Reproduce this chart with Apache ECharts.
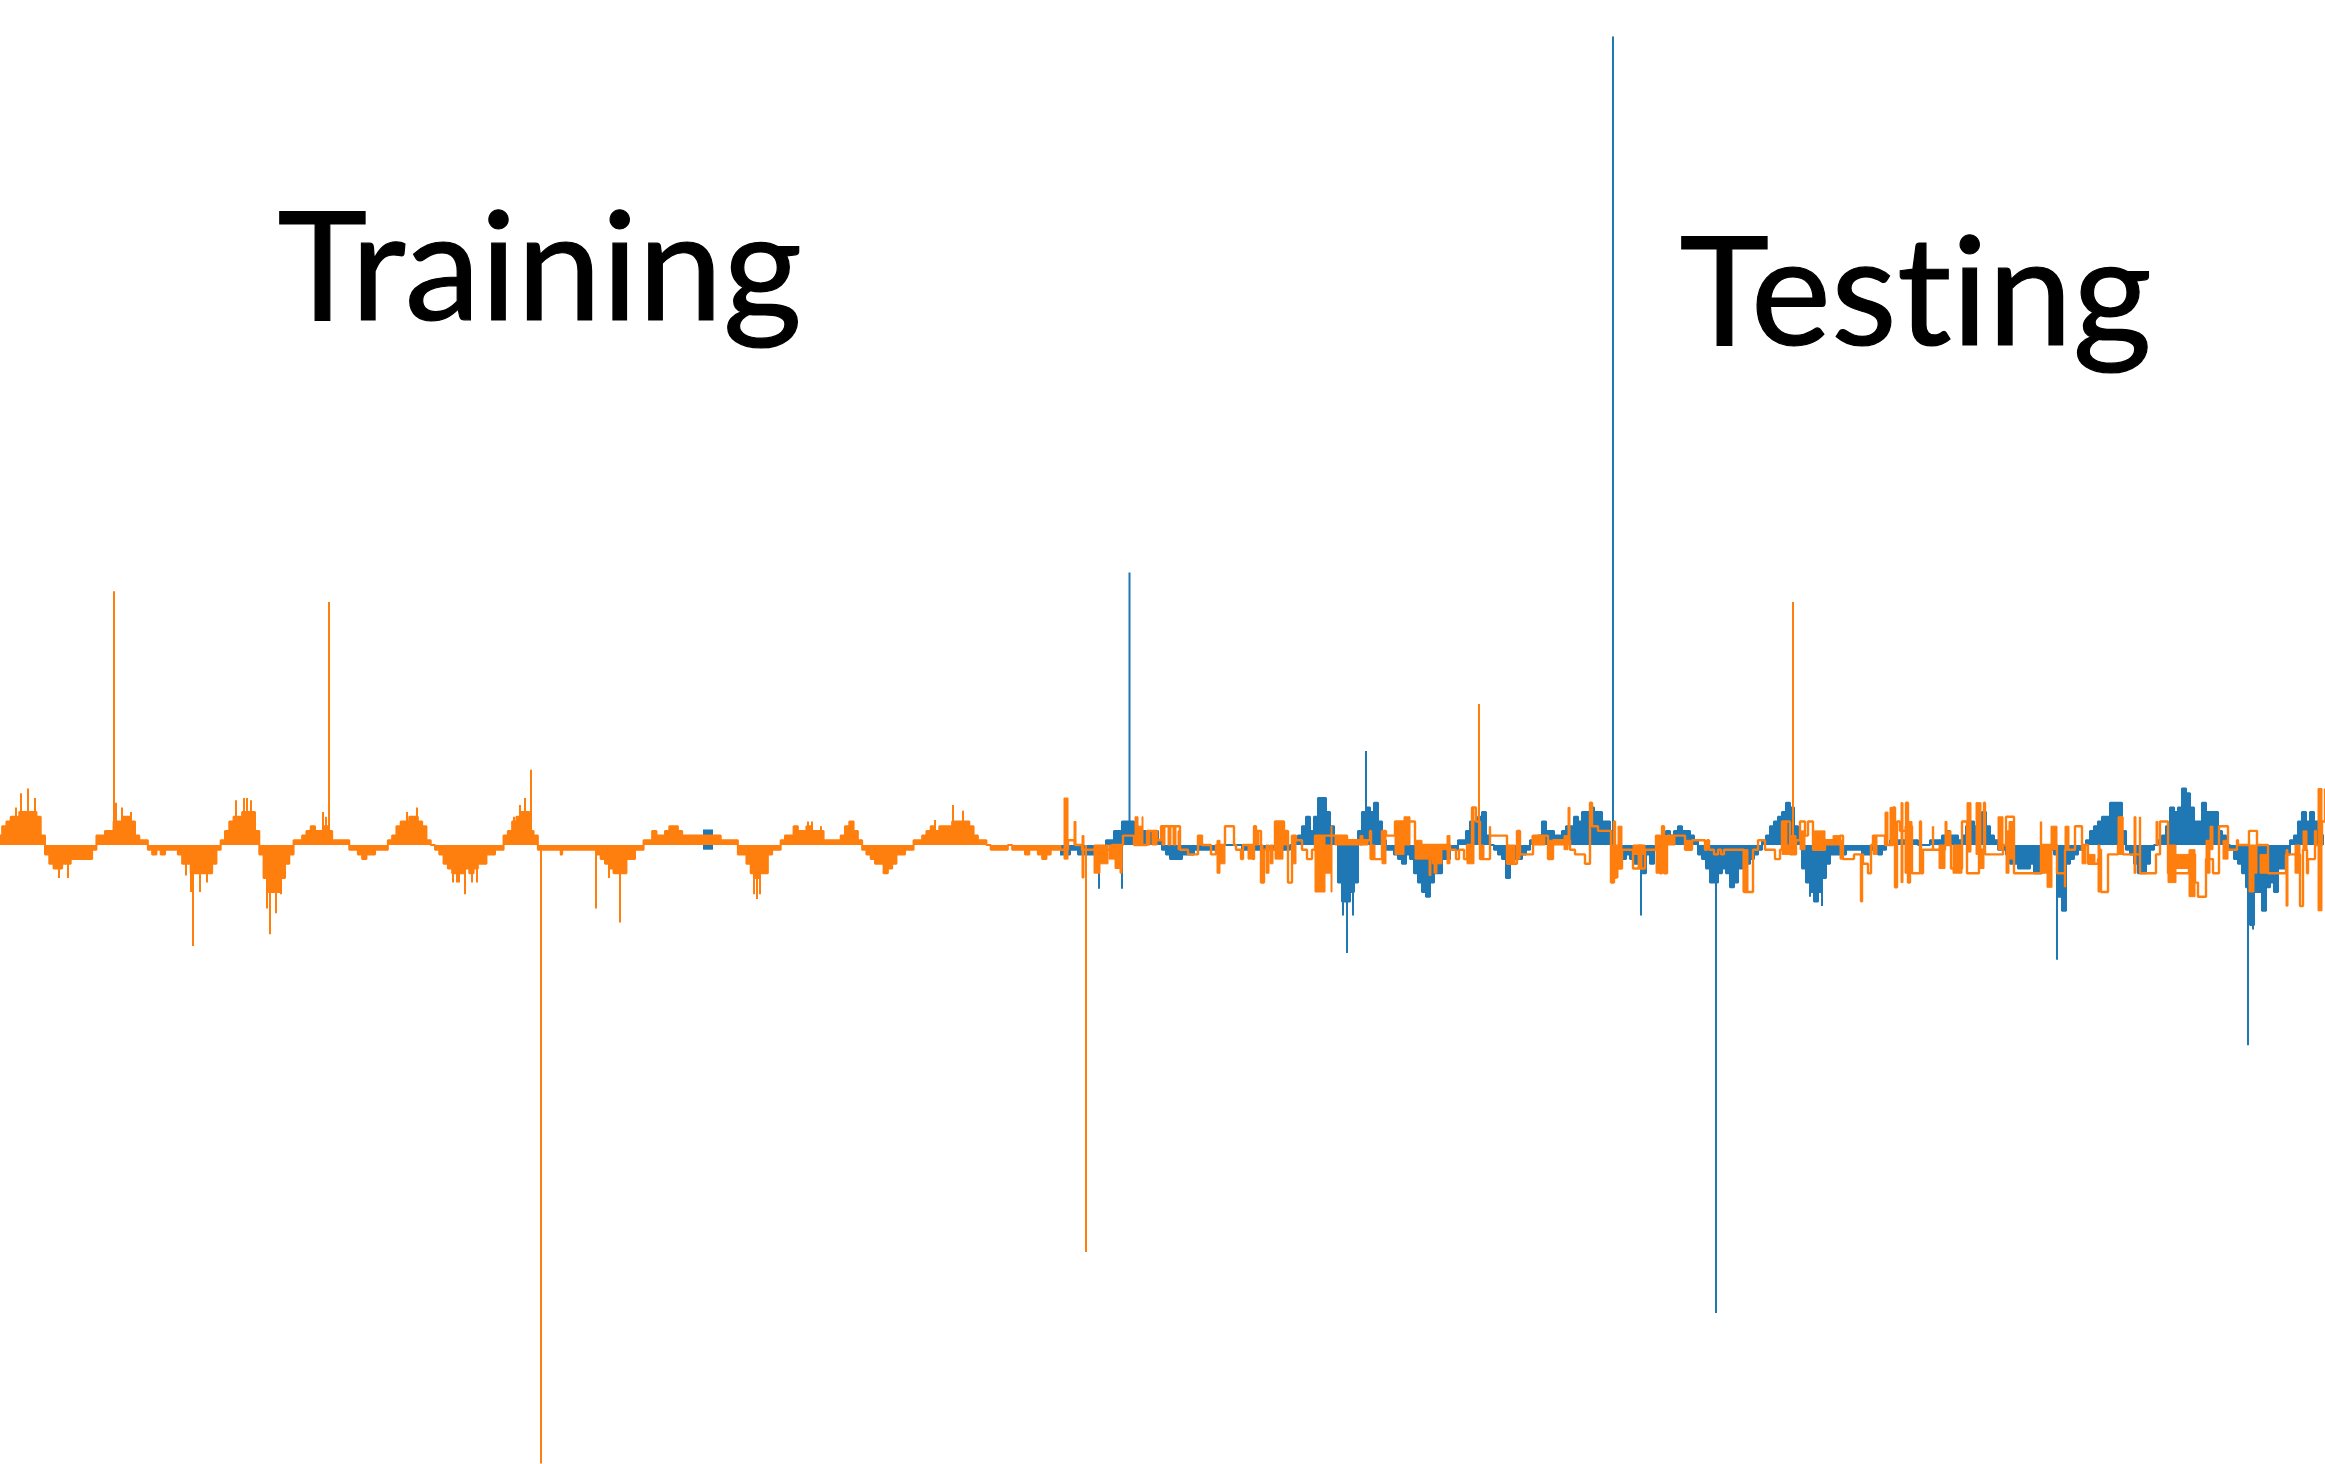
<!DOCTYPE html>
<html><head><meta charset="utf-8">
<style>html,body{margin:0;padding:0;background:#fff}#c{width:2325px;height:1464px}svg text{font-variant-ligatures:none !important;font-feature-settings:"liga" 0,"clig" 0,"dlig" 0 !important}</style>
<script src="https://cdn.jsdelivr.net/npm/echarts@6/dist/echarts.min.js"></script>
</head><body><div id="c"></div>
<script>
// Values are in quantisation steps of the signal; x is the sample position.
const labels = ['Training', 'Testing'];
const SAMPLE = 4, TRAIN_SAMPLE = 4.2857;

const orangeTrain0 = [2,4,5,6,6,7,7,7,7,6,2,
 -2,-4,-5,-5,-4,-4,-3,-3,-3,-3,-3,-1,
 2,2,3,3,5,5,6,6,5,2,1,1,
 -1,-2,-1,-2,-1,-1,-1,-2,-4,-4,-6,-6,-6,-6,-6,-4,-1,
 1,3,5,6,6,7,7,7,3,
 -2,-7,-10,-10,-10,-7,-4,-2,
 1,1,2,3,4,3,3,4,3,1,1,1,1,
 -1,-1,-2,-3,-2,-2,-1,-1,-1,
 1,2,4,5,5,6,6,5,4,1,0,
 -1,-2,-4,-5,-6,-6,-6,-5,-6,-5,-4,-4,-2,-2,-1,-1,
 2,3,5,6,7,7,3,2,-1,-1,-1,-1,-1,-1];
const orangeTrain560 = [-2,-1,-1,-1,-1,-1,-1,-1,-1,
 -2,-3,-4,-5,-6,-6,-6,-3,-3,-1,-1,
 1,1,3,2,2,3,4,4,3,2,2,2,2,2,2,2,2,2,1,1,1,1,
 -2,-2,-4,-6,-7,-6,-6,-2,-1,-1,
 1,2,2,4,3,3,4,3,3,3,1,1,1,1,2,4,5,3,1,
 -1,-2,-3,-4,-4,-6,-5,-4,-2,-2,-1,-1,
 1,1,2,3,4,3,4,4,4,5,5,5,5,4,2,1,1,
 0,-1,-1,-1,-1,0,-1,-1,-1,-2,-1,-1,-2,-3,-2,-1,-1,-1];
const orangeSpikeX = [114,193,270,329,531,541,596,620,1086,1479,1793,
 16,21,28,35,59,68,116,122,131,186,191,200,207,236,244,247,251,267,276,281,323,326,407,417,453,457,459,465,472,477,514,520,525,
 609,754,757,760,808,812,821,935,953,963];
const orangeSpikeV = [54,-21.5,-19,51.7,16,-131.6,-13.5,-16.5,-86.6,30,51.7,
 8,11,12,10,-7,-7,9,8,7,-6.5,-10,-10,-8,9.5,10,10,9.5,-13.5,-14.5,-10.5,7,6,7,8,-8,-8,-8,-10.5,-8,-8,6,8.5,10,
 -7,-10.5,-11.5,-10.5,5,5,4,5.3,8.5,7.3];

const blue1060 = [-2,-2,-2,-1,-1,-2,-2,-2,-2,-1,-1,-2,1,1,3,3,5,5,5,4,3,3,2,3,3,1,
 -1,-2,-3,-3,-3,-2,-2,-2,-1,-1,-1,-1,-1,-1,-1,0,0,0,0,0,-1,-1,-1,-1,-1,-1,-1,-1,
 -1,-1,-1,-1,0,1,2,4,6,3,6,10,10,7,4,1];
const blue1340 = [-8,-12,-12,-10,-8,3,7,8,7,9,5,1,
 -1,-1,-2,-3,-4,-2,-3,-6,-8,-10,-11,-8,-6,-6,-3,-3,-1,-1,
 1,1,3,5,5,6,7,2,0,-1,-2,-3,-7,-4,-3,-3,-2,-1];
const blue1532 = [1,1,2,5,3,3,2,2,3,4,4,6,5,7,7,8,7,7,5,5,3,
 -1,-3,-3,-2,-3,-4,-4,-6,-2,-4,-1,1,1,3,2,3,4,3,3,2,1,-2,-3];
const blue1708 = [-5,-8,-8,-6,-5,-6,-9,-8,-5,-5,-4,-3,-2,-1,1,2,4,5,6,7,9,8,4,1,
 -5,-8,-10,-12,-10,-7,-4,-2,-2,-2,-2,-1,-1,-1,-1,-2,-2,-1,-1,-2,-1,0,1,1,1,1,1,1,1,0];
const blue1924 = [0,0,1,1,1,2,3,2,2,1,2,4,5,4,5,7,4,2,1,-1,-1,-2,-4,-4,-5,-5,-5,-4,-6,-6,-4,-2,-1,-2,
 -11,-14,-4,-3,-2,-1,0,1,3,4,5,6,6,9,9,9,3,-1,-2];
const blue2136 = [-4,-6,-6,-4,-1,0,1,2,4,8,7,8,12,11,8,5,5,9,7,7,7,3,2,0,
 -1,-3,-4,-6,-9,-17,-10,-10,-14,-9,-8,-10,-5,-5,-2,1,2,5,7,5,7,5,2,2];
const blueSpikeX = [1099,1122,1129.5,1343,1347,1353,1366,1508,1613,1641,1716,1810,1818,1822,2057,2248,2253,2263];
const blueSpikeV = [-9.3,-9.3,58,-15,-23,-15,20,-7,172,-15,-99.6,-11,-11,-13,-24.4,-42.6,-18,-14];
// Short blue stretches of the training part that show past the orange trace.
const blueTrainX0 = [123,703];
const blueTrainX1 = [128,713];
const blueTrainLo = [0,-1];
const blueTrainHi = [1,3.3];

// Held stretches of the orange test trace, as sample / value pairs.
const orangeTraceX = [1060,1064,1068,1073,1075,1082,1094,1108,1112,1122,1123,1133,1134,1147,1147,1157,1157,1161,1161,1179,1180,1188,1188,1198,1198,1202,1202,1210,1211,1214,1216,1225,1225,1234,1234,1236,1240,1241,1243,1243,1248,1253,1254,1256,1256,1260,1261,1263,1264,1274,
 1275,1283,1284,1288,1288,1292,1292,1296,1296,1302,1302,1307,1307,1312,1312,1314,1315,1347,1368,1370,1371,1382,1382,1386,1386,1394,1395,1412,1415,1415,1447,1450,1455,1456,1458,1459,1463,1464,1467,1467,1472,1473,1476,1476,
 1480,1484,1490,1490,1507,1507,1515,1517,1517,1520,1520,1533,1533,1548,1548,1553,1553,1568,1570,1575,1575,1585,1585,1589,1590,1591,1592,1598,1598,1610,1611,1613,1614,1615,1616,1618,1622,1633,1633,1645,1645,1655,1656,1660,1662,1664,1667,1675,1675,1685,1685,1692,1692,1705,
 1707,1709,1714,1714,1718,1718,1721,1721,1724,1724,1743,1744,1748,1753,1758,1760,1764,1765,1775,1775,1780,1780,1782,1790,1796,1800,1800,1805,1805,1808,1810,1813,1813,1825,1833,1840,1843,1852,1854,1860,1861,1862,1863,1866,1868,1870,1871,1873,1885,1890,1893,1895,1897,1900,1903,1906,1908,1910,1912,1920,
 1921,1923,1933,1933,1939,1945,1951,1953,1962,1967,1971,1979,1984,1985,1992,1995,1998,2003,2006,2013,2014,2041,2041,2052,2057,2058,2065,2065,2069,2075,2075,2077,2082,2082,2086,2088,2095,2098,2099,2100,2101,2108,2110,2113,2118,2123,2133,
 2135,2136,2140,2140,2152,2156,2156,2159,2160,2165,2168,2189,2190,2195,2198,2198,2206,2206,2210,2212,2213,2219,2220,2228,2236,2237,2238,2249,2257,2260,2260,2268,2268,2270,2286,2288,2295,2300,2303,2307,2308,2315,2316,2318,2322,2325];
const orangeTraceV = [-1,-1,1,1,0,-1,-1,-1,0,0,2,2,0,0,3,3,1,1,4,4,-1,-1,-2,-2,2,2,0,0,-2,-2,0,0,4,4,0,-1,-1,-3,-3,0,0,-3,4,4,3,3,-8,-8,-1,-1,
 5,5,3,3,-8,-8,2,2,1,1,-1,-1,-3,-3,-1,-1,2,1,1,3,-3,-3,3,3,2,2,5,5,5,0,0,-1,-1,-3,-3,-1,-1,-3,-3,0,8,8,5,5,
 -3,-3,4,2,2,-4,-4,-4,3,3,-2,-2,2,2,-3,-3,1,1,-1,-1,-2,-2,-4,-4,9,9,4,4,3,3,-8,-8,5,-7,-5,-5,-1,-1,-5,-5,-1,-1,2,-6,4,-6,2,2,2,2,-1,-1,1,-1,
 1,-1,-1,-2,-2,-1,-1,-2,-2,-1,-1,-10,-10,-1,1,1,1,-1,-1,-3,-3,-1,5,-2,1,1,5,5,2,5,5,3,-1,1,1,2,-3,-3,-2,-2,-12,-2,-4,-4,-6,-6,0,2,0,0,8,-9,5,3,3,9,-8,4,-6,5,-6,-1,
 4,-1,-1,0,-5,-5,5,-6,-6,-1,9,-2,-2,-2,-2,0,6,6,-6,5,0,0,-6,-6,-9,-1,-1,4,4,4,-1,0,0,-4,-4,-3,-3,-1,-10,-2,-2,-2,0,-2,-2,-2,-2,
 6,-6,-6,-2,-2,-2,5,5,-6,-2,-2,-8,-11,-11,-11,-3,-3,-3,-6,4,4,-1,-1,1,0,3,0,0,0,0,-6,-6,-2,-2,-2,-13,-1,-6,-3,3,0,0,5,12,-14,1];

// Dense orange stretches of the test part: start, end, low, high.
const orangeBlockX0 = [1064,1074,1082,1094,1099,1109,1115,1120,1135,1138,1142,1147,1152,1162,1168,1173,1178,1198,1217,1220,1248,1254,1261,1266,1270,
 1275,1283,1292,1315,1325,1331,1335,1347,1360,1370,1382,1395,1404,1415,1422,1429,1432,1434,1442,1447,1467,1472,1480,
 1507,1517,1532,1548,1553,1564,1568,1611,1616,1618,1633,1638,1656,1664,1667,1685,
 1743,1782,1787,1790,1800,1813,1825,1833,1840,1873,1885,1890,1901,1905,1909,
 1939,1945,1947,1953,1967,1976,1979,1998,2006,2009,2041,2047,2051,2065,2082,2088,2098,2118,
 2120,2134,2156,2168,2176,2189,2206,2210,2223,2249,2254,2260,2286,2295,2303,2318];
const orangeBlockX1 = [1068,1076,1084,1100,1108,1115,1122,1122,1138,1142,1143,1150,1157,1165,1171,1176,1179,1202,1220,1225,1253,1259,1263,1269,1273,
 1283,1288,1296,1325,1331,1332,1347,1368,1363,1375,1386,1404,1410,1422,1432,1431,1442,1437,1447,1450,1474,1474,1484,
 1515,1520,1545,1553,1565,1568,1570,1613,1618,1622,1645,1642,1660,1667,1675,1692,
 1748,1787,1790,1796,1805,1825,1833,1840,1843,1877,1888,1892,1903,1908,1912,
 1945,1947,1951,1962,1971,1981,1984,2003,2009,2013,2047,2052,2057,2069,2086,2095,2100,2123,
 2123,2136,2158,2176,2188,2195,2210,2213,2228,2254,2257,2268,2288,2300,2307,2322];
const orangeBlockLo = [-3,0,-7,-6,-4,-3,-5,-6,0,0,0,0,0,0,0,0,-1,0,-6,-4,-3,0,-8,-6,-4,
 -3,0,-4,-10,-6,-10,0,0,0,-3,-4,-2,0,-3,-3,-6.5,-4,-6,-1,-4,-4,0,-3,
 -4,-3,0,-3,0,-1,0,-8,-7,-5,-2,-5,-6,-6,0,-1,
 -10,-2,-2,-2,-1,-1,0,0,-3,-2,0,0,-8,-6,-6,
 -5,0,0,-6,-1.5,-2,-5,-1,-6,-3,-6,-9,-1,-1,-4,-4,-10,-2,
 -2,-6,0,-8,-5,-11,-6,-1,-3,-10,-6,-6,-13,-6,-1,-14];
const orangeBlockHi = [10,5,2,0,0,0,0,0,6,4,6,3,3,4,4,4,3,2,1,0,0,3,0,0,0,
 5,3,2,2,0,4,2,1,2,0,3,5,6,1,0,0,0,0,0,2,0,8,0,
 0,3,2,1,1,2,8,0,0,4,0,0,2,2,2,1,
 -1,5,0,2,3,3,1,2,1,2,7,8,9,4,5,
 0,5,3,0,9,9,-1,6,3,5,0,0,4,4,0,-2,0,6,
 6,6,5,0,-2,-1,1,4,1,0,0,-2,-1,0,3,12];

const yPerStep = 4.7, zeroPx = 845, chartW = 2325, chartH = 1464;
const toPairs = (start, vals, step) => vals.map((v, i) => [start + step * i, v]);
const orangeEnv = [...toPairs(0, orangeTrain0, TRAIN_SAMPLE), ...toPairs(560, orangeTrain560, TRAIN_SAMPLE)];
const blueEnv = [[1060,blue1060],[1340,blue1340],[1532,blue1532],[1708,blue1708],[1924,blue1924],[2136,blue2136]]
  .flatMap(([s, v]) => toPairs(s, v, SAMPLE));
const orangeTrace = orangeTraceX.map((x, i) => [x, orangeTraceV[i]]);
const orangeBlocks = orangeBlockX0.map((x, i) => [x, orangeBlockX1[i], orangeBlockLo[i], orangeBlockHi[i]]);
const blueTrain = blueTrainX0.map((x, i) => [x, blueTrainX1[i], blueTrainLo[i], blueTrainHi[i]]);
const spikes = (xs, vs) => xs.map((x, i) => [x - 1, x + 1, Math.min(0, vs[i]), Math.max(0, vs[i])]);

const rectSeries = (data, color, z, edge) => ({
  type: 'custom', data, z, silent: true, clip: false,
  encode: { x: [0, 1], y: [2, 3] },
  renderItem: (p, api) => {
    const a = api.coord([api.value(0), api.value(3)]);
    const b = api.coord([api.value(1), api.value(2)]);
    return { type: 'rect', shape: { x: a[0], y: a[1], width: b[0] - a[0], height: b[1] - a[1] },
      style: { fill: color, stroke: edge ? color : null, lineWidth: edge } };
  }
});
const fillSeries = (data, color, z) => ({
  type: 'line', data, z, step: 'middle', showSymbol: false, silent: true,
  lineStyle: { color, width: 2 }, areaStyle: { color, opacity: 1, origin: 0 }, itemStyle: { color }
});

const blue = '#1f77b4', orange = '#ff7f0e';
const chart = echarts.init(document.getElementById('c'), null, { renderer: 'svg' });
chart.setOption({
  animation: false, backgroundColor: '#ffffff',
  grid: { left: 0, right: 0, top: 0, bottom: 0 },
  xAxis: { type: 'value', min: 0, max: chartW, show: false },
  yAxis: { type: 'value', min: (zeroPx - chartH) / yPerStep, max: zeroPx / yPerStep, show: false },
  tooltip: { show: false },
  series: [
    rectSeries(blueTrain, blue, 1, 0),
    fillSeries(blueEnv, blue, 1),
    rectSeries(spikes(blueSpikeX, blueSpikeV), blue, 2, 0),
    fillSeries(orangeEnv, orange, 3),
    { type: 'line', data: orangeTrace, step: 'end', z: 4, showSymbol: false, silent: true, lineStyle: { color: orange, width: 2.4 }, itemStyle: { color: orange } },
    rectSeries(orangeBlocks, orange, 5, 1),
    rectSeries(spikes(orangeSpikeX, orangeSpikeV), orange, 6, 0)
  ],
  graphic: [
    { type: 'text', left: 277, top: 184, z: 10, style: { text: labels[0], font: '152px Lato', fill: '#000', stroke: '#000', lineWidth: 1.2 } },
    { type: 'text', left: 1679, top: 209, z: 10, style: { text: labels[1], font: '152px Lato', fill: '#000', stroke: '#000', lineWidth: 1.2 } }
  ]
});
</script></body></html>
